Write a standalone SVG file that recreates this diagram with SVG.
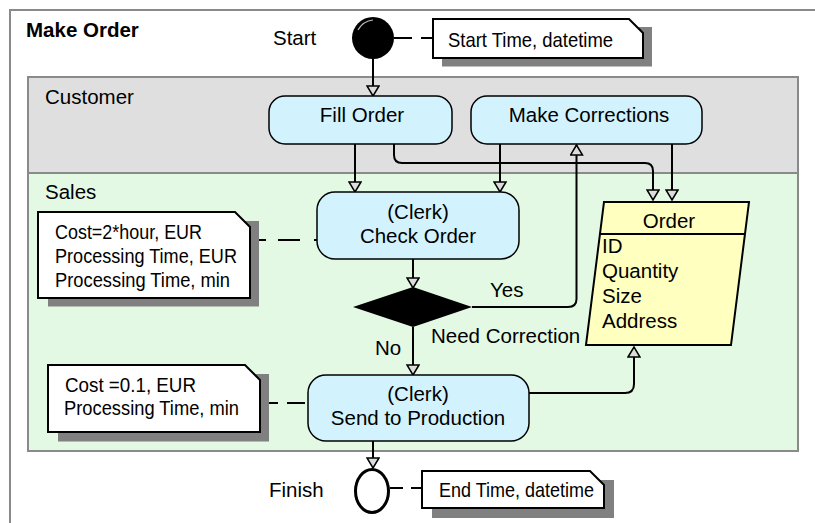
<svg xmlns="http://www.w3.org/2000/svg" width="815" height="523" viewBox="0 0 815 523">
<style>
text{font-family:"Liberation Sans",Arial,sans-serif;font-size:20.5px;fill:#000}
.title{font-weight:bold}
.mid{text-anchor:middle}
.nt{font-size:21px}
.lane{stroke:#8a8a8a;stroke-width:2}
.act{fill:#d2f3fe;stroke:#000;stroke-width:1.5}
.note{fill:#fff;stroke:#000;stroke-width:2}
.shadow{fill:#808080}
.conn{fill:none;stroke:#000;stroke-width:2}
.dash{fill:none;stroke:#000;stroke-width:2;stroke-dasharray:18 9}
</style>
<defs>
<marker id="arr" markerUnits="userSpaceOnUse" markerWidth="14" markerHeight="14" refX="11" refY="7" orient="auto">
<path d="M1,1 L11,7 L1,13 Z" fill="#dcdcdc" stroke="#000" stroke-width="1.5"/>
</marker>
</defs>
<rect x="0" y="0" width="815" height="523" fill="#fff"/>
<rect x="10" y="10" width="900" height="600" fill="#fff" stroke="#8a8a8a" stroke-width="2"/>
<text class="title" x="26" y="37">Make Order</text>

<g id="lane-customer">
<rect class="lane" x="28" y="77" width="770" height="96" fill="#dfdfdf"/>
<text x="45" y="104">Customer</text>
</g>
<g id="lane-sales">
<rect class="lane" x="28" y="173" width="770" height="278" fill="#e4f9e4"/>
<text x="45" y="199">Sales</text>
</g>

<g id="connectors">
<line class="conn" x1="373" y1="59" x2="373" y2="96" marker-end="url(#arr)"/>
<line class="conn" x1="355" y1="144" x2="355" y2="192" marker-end="url(#arr)"/>
<path class="conn" d="M394,144 V155 Q394,163 402,163 H645 Q653,163 653,171 V200" marker-end="url(#arr)"/>
<line class="conn" x1="500" y1="144" x2="500" y2="192" marker-end="url(#arr)"/>
<line class="conn" x1="672" y1="144" x2="672" y2="200" marker-end="url(#arr)"/>
<line class="conn" x1="413" y1="259" x2="413" y2="288" marker-end="url(#arr)"/>
<path class="conn" d="M472,307 H568 Q576.5,307 576.5,299 V145" marker-end="url(#arr)"/>
<line class="conn" x1="413" y1="327" x2="413" y2="375" marker-end="url(#arr)"/>
<path class="conn" d="M529,393 H625 Q634,393 634,384 V347" marker-end="url(#arr)"/>
<line class="conn" x1="373" y1="441" x2="373" y2="468" marker-end="url(#arr)"/>
<path class="dash" d="M394,38 H433"/>
<path class="dash" d="M250,240 H317" style="stroke-dasharray:16 12 22 14"/>
<path class="dash" d="M260,403 H308"/>
<path class="dash" d="M390,488 H422" style="stroke-dasharray:13 8"/>
<text x="490" y="297">Yes</text>
<text x="431" y="343">Need Correction</text>
<text x="375" y="355">No</text>
</g>

<g id="start">
<text x="273" y="45">Start</text>
<ellipse cx="373" cy="38" rx="21" ry="21" fill="#000"/>
<path d="M358,30 Q363,21 373,20" fill="none" stroke="#bbb" stroke-width="1.2"/>
</g>

<g id="note-start">
<path class="shadow" d="M442,27 H652 V66.5 H442 Z"/>
<path class="note" d="M433,19 H629 L643,33 V58 H433 Z"/>
<text class="nt" x="448" y="47" textLength="165" lengthAdjust="spacingAndGlyphs">Start Time, datetime</text>
</g>

<g id="fill-order">
<rect class="act" x="269" y="96" width="183" height="48" rx="16"/>
<text class="mid" x="362" y="122">Fill Order</text>
</g>

<g id="make-corrections">
<rect class="act" x="471" y="96" width="231" height="48" rx="16"/>
<text class="mid" x="589" y="122">Make Corrections</text>
</g>

<g id="note-check">
<path class="shadow" d="M48,221 H259 V306.5 H48 Z"/>
<path class="note" d="M38,212 H235 L250,227 V298 H38 Z"/>
<text class="nt" x="55" y="239" textLength="147" lengthAdjust="spacingAndGlyphs">Cost=2*hour, EUR</text>
<text class="nt" x="55" y="263" textLength="182" lengthAdjust="spacingAndGlyphs">Processing Time, EUR</text>
<text class="nt" x="55" y="287" textLength="175" lengthAdjust="spacingAndGlyphs">Processing Time, min</text>
</g>

<g id="check-order">
<rect class="act" x="317" y="192" width="202" height="67" rx="18"/>
<text class="mid" x="418" y="219">(Clerk)</text>
<text class="mid" x="418" y="243">Check Order</text>
</g>

<g id="decision">
<polygon points="353,307 413,287 472,307 413,327" fill="#000"/>
</g>

<g id="order">
<polygon points="604,202 749,202 731,345 586,345" fill="#ffffc0" stroke="#000" stroke-width="2"/>
<line x1="600" y1="234" x2="745" y2="234" stroke="#000" stroke-width="2"/>
<text class="mid" x="669" y="228">Order</text>
<text x="602" y="253">ID</text>
<text x="602" y="278">Quantity</text>
<text x="602" y="303">Size</text>
<text x="602" y="328">Address</text>
</g>

<g id="note-send">
<path class="shadow" d="M58,374 H269 V441.5 H58 Z"/>
<path class="note" d="M48,365 H245 L260,380 V432 H48 Z"/>
<text class="nt" x="65" y="392" textLength="131" lengthAdjust="spacingAndGlyphs">Cost =0.1, EUR</text>
<text class="nt" x="64" y="415" textLength="175" lengthAdjust="spacingAndGlyphs">Processing Time, min</text>
</g>

<g id="send-production">
<rect class="act" x="308" y="375" width="221" height="66" rx="18"/>
<text class="mid" x="418" y="401">(Clerk)</text>
<text class="mid" x="418" y="425">Send to Production</text>
</g>

<g id="finish">
<text x="269" y="497">Finish</text>
<ellipse cx="372" cy="491" rx="16.5" ry="21.5" fill="#fff" stroke="#000" stroke-width="3"/>
</g>

<g id="note-end">
<path class="shadow" d="M432,480 H614 V518 H432 Z"/>
<path class="note" d="M422,471 H590 L604,485 V508 H422 Z"/>
<text class="nt" x="439" y="497" textLength="155" lengthAdjust="spacingAndGlyphs">End Time, datetime</text>
</g>
</svg>
